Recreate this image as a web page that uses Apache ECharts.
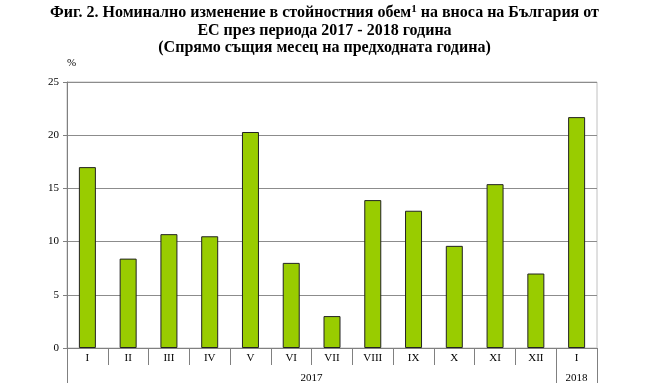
<!DOCTYPE html>
<html>
<head>
<meta charset="utf-8">
<script src="https://cdn.jsdelivr.net/npm/echarts@6/dist/echarts.min.js"></script>
<style>html,body{margin:0;padding:0;background:#fff}#c{width:649px;height:391px}</style>
</head>
<body>
<div id="c"></div>
<script>
var months = ['I','II','III','IV','V','VI','VII','VIII','IX','X','XI','XII','I'];
var values = [17.0, 8.4, 10.7, 10.5, 20.3, 8.0, 3.0, 13.9, 12.9, 9.6, 15.4, 7.0, 21.7];
var years = ['2017', '2018'];
var yearCounts = [12, 1];
var yTicks = [0, 5, 10, 15, 20, 25];

// year boundaries and label centers derived from counts
var bounds = [0];
yearCounts.forEach(function(c){ bounds.push(bounds[bounds.length-1] + c); });
var yearCenters = yearCounts.map(function(c, i){ return (bounds[i] + bounds[i+1]) / 2; });

var FONT = '"Liberation Serif", "Times New Roman", serif';
var chart = echarts.init(document.getElementById('c'), null, {renderer: 'canvas'});
chart.setOption({
  animation: false,
  backgroundColor: '#fff',
  title: {
    left: 'center',
    top: 0,
    padding: [4, 5, 5, 5],
    text: '{b|Фиг. 2. Номинално изменение в стойностния обем}{s|1}{b| на вноса на България от}\n{b|ЕС през периода 2017 - 2018 година}\n{b|(Спрямо същия месец на предходната година)}',
    textStyle: {
      fontFamily: FONT,
      fontWeight: 'bold',
      fontSize: 16,
      color: '#000',
      lineHeight: 17.6,
      align: 'center',
      rich: {
        b: {fontFamily: FONT, fontWeight: 'bold', fontSize: 16, color: '#000', lineHeight: 17.6},
        s: {fontFamily: FONT, fontWeight: 'bold', fontSize: 11, color: '#000', verticalAlign: 'top', lineHeight: 17.6, padding: [0,0,6,0]}
      }
    }
  },
  grid: {
    left: 67, right: 52, top: 82, bottom: 43,
    show: true, borderColor: '#c0c0c0', borderWidth: 1, backgroundColor: 'transparent'
  },
  xAxis: [{
    type: 'category',
    data: months,
    position: 'bottom',
    axisLine: {lineStyle: {color: '#808080', width: 1}},
    axisTick: {show: true, interval: 0, length: 17, lineStyle: {color: '#808080'}},
    axisLabel: {interval: 0, fontFamily: FONT, fontSize: 11, color: '#000', margin: 5}
  }, {
    type: 'value',
    position: 'bottom',
    min: 0, max: bounds[bounds.length-1],
    axisLine: {show: false},
    splitLine: {show: false},
    axisTick: {show: true, customValues: bounds, length: 35, lineStyle: {color: '#808080'}},
    axisLabel: {
      customValues: yearCenters,
      fontFamily: FONT, fontSize: 11, color: '#000', margin: 25,
      formatter: function(v){ var i = yearCenters.indexOf(v); return i >= 0 ? years[i] : ''; }
    }
  }],
  yAxis: {
    type: 'value',
    min: yTicks[0], max: yTicks[yTicks.length-1], interval: 5,
    name: '%',
    nameLocation: 'end',
    nameGap: 13,
    nameTextStyle: {fontFamily: FONT, fontSize: 11, color: '#000', align: 'left', padding: [0,0,0,0]},
    axisLine: {show: true, lineStyle: {color: '#808080'}},
    axisTick: {show: true, length: 4, lineStyle: {color: '#808080'}},
    axisLabel: {fontFamily: FONT, fontSize: 11, color: '#000', margin: 8},
    splitLine: {show: true, lineStyle: {color: '#8c8c8c', width: 1}}
  },
  series: [{
    type: 'bar',
    data: values,
    barWidth: 17,
    itemStyle: {color: '#99cc00', borderColor: '#222', borderWidth: 1}
  }]
});
</script>
</body>
</html>
